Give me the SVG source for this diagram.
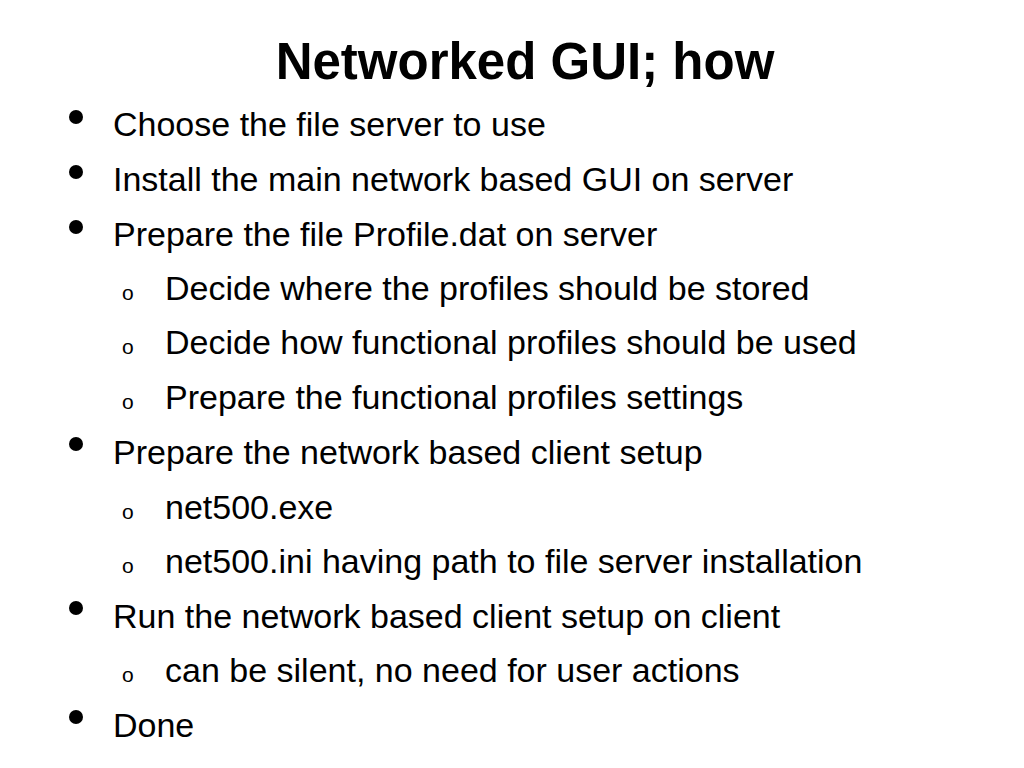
<svg xmlns="http://www.w3.org/2000/svg" width="1024" height="768" viewBox="0 0 1024 768">
<style>
text{font-family:"Liberation Sans",Arial,sans-serif;fill:#000}
.t{font-size:51px;font-weight:bold}
.b{font-size:34px}
.o{font-size:21px}
</style>
<rect width="1024" height="768" fill="#fff"/>
<text class="t" x="525" y="79" text-anchor="middle">Networked GUI; how</text>
<g fill="#000">
<circle cx="76" cy="117" r="7"/><circle cx="76" cy="172" r="7"/><circle cx="76" cy="227" r="7"/>
<circle cx="76" cy="444" r="7"/><circle cx="76" cy="608" r="7"/><circle cx="76" cy="717" r="7"/>
</g>
<text class="b" x="113" y="136">Choose the file server to use</text>
<text class="b" x="113" y="191">Install the main network based GUI on server</text>
<text class="b" x="113" y="246">Prepare the file Profile.dat on server</text>
<text class="o" x="122" y="300">o</text><text class="b" x="165" y="300">Decide where the profiles should be stored</text>
<text class="o" x="122" y="354">o</text><text class="b" x="165" y="354">Decide how functional profiles should be used</text>
<text class="o" x="122" y="409">o</text><text class="b" x="165" y="409">Prepare the functional profiles settings</text>
<text class="b" x="113" y="464">Prepare the network based client setup</text>
<text class="o" x="122" y="519">o</text><text class="b" x="165" y="519">net500.exe</text>
<text class="o" x="122" y="573">o</text><text class="b" x="165" y="573">net500.ini having path to file server installation</text>
<text class="b" x="113" y="628">Run the network based client setup on client</text>
<text class="o" x="122" y="682">o</text><text class="b" x="165" y="682">can be silent, no need for user actions</text>
<text class="b" x="113" y="737">Done</text>
</svg>
